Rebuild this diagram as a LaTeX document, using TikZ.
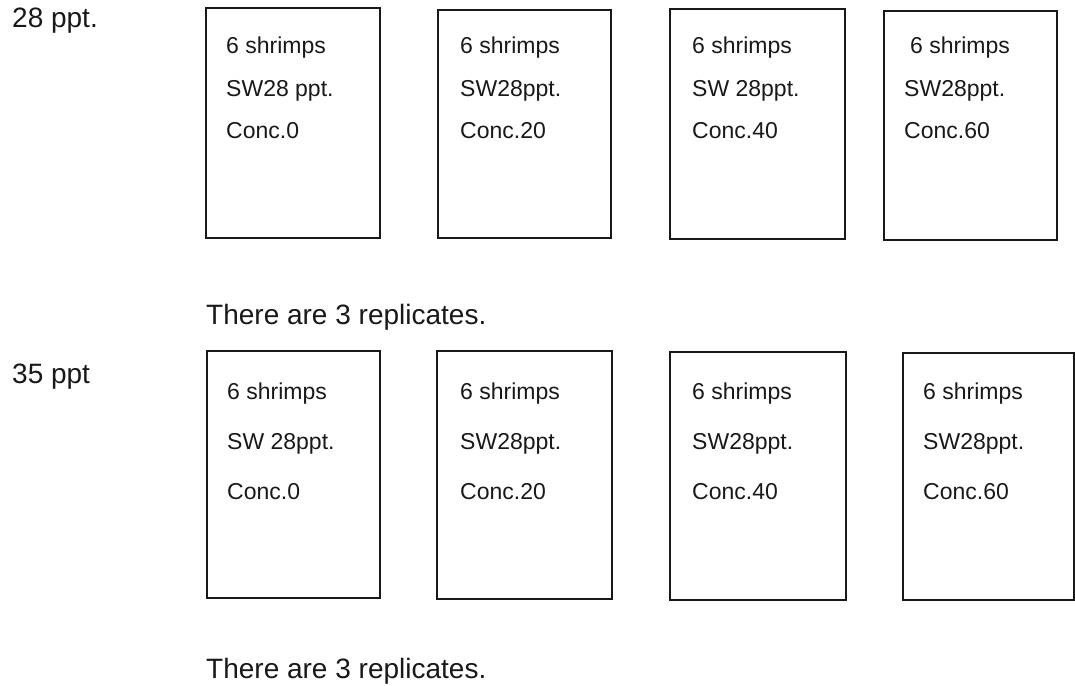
\documentclass[tikz,border=0pt]{standalone}
\usepackage{fontspec}
\setmainfont{Liberation Sans}
\begin{document}
\begin{tikzpicture}[x=1pt,y=-1pt,
  box/.style={draw=black!90, line width=1.8pt, inner sep=0pt, outer sep=0pt, anchor=north west},
  lbl/.style={anchor=base west, inner sep=0pt, font=\fontsize{28}{32}\selectfont, text=black!90},
  txt/.style={anchor=base west, inner sep=0pt, font=\fontsize{23}{27}\selectfont, text=black!90}]
\useasboundingbox (0,0) rectangle (1075,685);
\fill[white] (0,0) rectangle (1075,685);

% row labels
\node[lbl] (l28) at (12,28) {28 ppt.};
\node[lbl] (l35) at (12,383) {35 ppt};
\node[lbl] (rep1) at (206,324) {There are 3 replicates.};
\node[lbl] (rep2) at (206,678) {There are 3 replicates.};

% top row boxes
\node[box, minimum width=174pt, minimum height=230pt] (t1) at (206,8) {};
\node[box, minimum width=173pt, minimum height=228pt] (t2) at (438,10) {};
\node[box, minimum width=175pt, minimum height=230pt] (t3) at (670,9) {};
\node[box, minimum width=173pt, minimum height=229pt] (t4) at (884,11) {};

% bottom row boxes
\node[box, minimum width=173pt, minimum height=247pt] (b1) at (207,351) {};
\node[box, minimum width=175pt, minimum height=248pt] (b2) at (437,351) {};
\node[box, minimum width=176pt, minimum height=248pt] (b3) at (670,352) {};
\node[box, minimum width=171pt, minimum height=247pt] (b4) at (903,353) {};

% top row texts
\node[txt] (t1a) at (226,53) {6 shrimps};
\node[txt] (t1b) at (226,96) {SW28 ppt.};
\node[txt] (t1c) at (226,138) {Conc.0};
\node[txt] (t2a) at (460,53) {6 shrimps};
\node[txt] (t2b) at (460,96) {SW28ppt.};
\node[txt] (t2c) at (460,138) {Conc.20};
\node[txt] (t3a) at (692,53) {6 shrimps};
\node[txt] (t3b) at (692,96) {SW 28ppt.};
\node[txt] (t3c) at (692,138) {Conc.40};
\node[txt] (t4a) at (910,53) {6 shrimps};
\node[txt] (t4b) at (904,96) {SW28ppt.};
\node[txt] (t4c) at (904,138) {Conc.60};

% bottom row texts
\node[txt] (b1a) at (227,399) {6 shrimps};
\node[txt] (b1b) at (227,449) {SW 28ppt.};
\node[txt] (b1c) at (227,499) {Conc.0};
\node[txt] (b2a) at (460,399) {6 shrimps};
\node[txt] (b2b) at (460,449) {SW28ppt.};
\node[txt] (b2c) at (460,499) {Conc.20};
\node[txt] (b3a) at (692,399) {6 shrimps};
\node[txt] (b3b) at (692,449) {SW28ppt.};
\node[txt] (b3c) at (692,499) {Conc.40};
\node[txt] (b4a) at (923,399) {6 shrimps};
\node[txt] (b4b) at (923,449) {SW28ppt.};
\node[txt] (b4c) at (923,499) {Conc.60};
\end{tikzpicture}
\end{document}
